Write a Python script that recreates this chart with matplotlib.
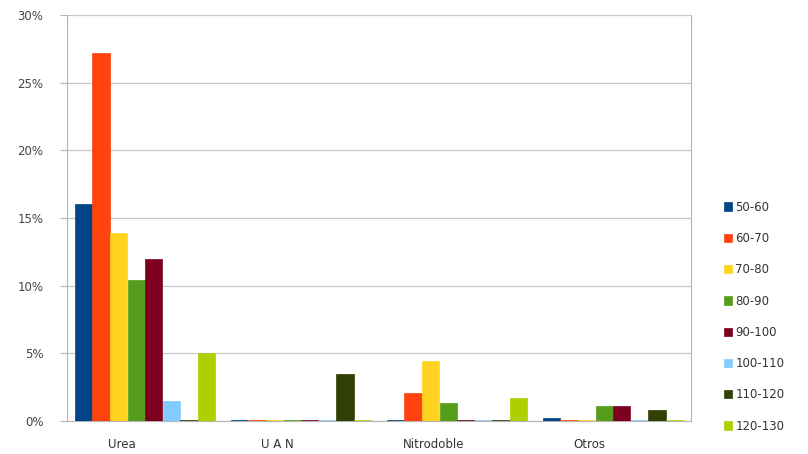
import numpy as np
import matplotlib.pyplot as plt

categories = ['Urea', 'U A N', 'Nitrodoble', 'Otros']
ranges = ['50-60', '60-70', '70-80', '80-90', '90-100', '100-110', '110-120', '120-130']
colors = ['#004586', '#ff420e', '#ffd320', '#579d1c', '#7e0021', '#83caff', '#314004', '#aecf00']

# share (%) per category, one list per range
values = {
    '50-60':   [16.0, 0.1, 0.1, 0.2],
    '60-70':   [27.2, 0.1, 2.1, 0.1],
    '70-80':   [13.9, 0.05, 4.4, 0.05],
    '80-90':   [10.4, 0.05, 1.3, 1.1],
    '90-100':  [12.0, 0.1, 0.1, 1.1],
    '100-110': [1.5, 0.05, 0.1, 0.1],
    '110-120': [0.1, 3.5, 0.1, 0.8],
    '120-130': [5.0, 0.05, 1.7, 0.1],
}

fig = plt.figure(figsize=(8.08, 4.54), dpi=100)
ax = fig.add_axes([67 / 808, 1 - 421 / 454, 624 / 808, 406 / 454])

x = np.arange(len(categories))
w = 0.113
for i, r in enumerate(ranges):
    pos = x + (i - 3.5) * w
    ax.bar(pos, values[r], width=w * 0.98, color=colors[i], label=r,
           edgecolor=colors[i], linewidth=0.5, zorder=3)

ax.set_xlim(-0.5, 3.5)
ax.set_ylim(0, 30)
ax.set_yticks(np.arange(0, 31, 5))
ax.set_yticklabels([f'{v}%' for v in range(0, 31, 5)])
ax.set_xticks(x - 0.15)
ax.set_xticklabels(categories)
ax.tick_params(axis='x', length=0, pad=12, labelsize=8.5, labelcolor='#333333')
ax.tick_params(axis='y', length=5, color='#b3b3b3', pad=12, labelsize=8.5, labelcolor='#444444')
ax.yaxis.grid(True, color='#c8c8c8', linewidth=0.9, zorder=0)
for s in ax.spines.values():
    s.set_color('#b3b3b3')
ax.spines['top'].set_visible(False)

fig.legend(loc='upper left', bbox_to_anchor=(713 / 808, 1 - 190 / 454),
           frameon=False, fontsize=8.5, labelspacing=1.55,
           handlelength=0.7, handleheight=0.7, handletextpad=0.3,
           labelcolor='#333333')

fig.savefig('out.png', dpi=100)
